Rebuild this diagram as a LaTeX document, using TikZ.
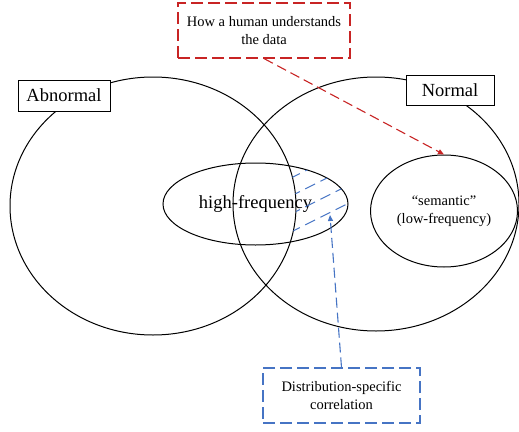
\documentclass[tikz,border=0pt]{standalone}
\usepackage{fontspec}
\setmainfont{Liberation Serif}
\usetikzlibrary{shapes.geometric,arrows.meta}
\definecolor{noteRed}{RGB}{200,36,36}
\definecolor{noteBlue}{RGB}{70,116,196}

\begin{document}
\begin{tikzpicture}[x=1pt,y=-1pt,
  setline/.style={draw,ellipse,line width=1pt,inner sep=0pt},
  bigtext/.style={font=\fontsize{18.5}{21}\selectfont},
  smalltext/.style={font=\fontsize{14.5}{17.5}\selectfont,align=center},
  namebox/.style={draw,fill=white,line width=0.9pt,inner sep=0pt,bigtext},
  notebox/.style={fill=white,line width=1.1pt,inner sep=0pt,smalltext,
    dash pattern=on 12pt off 5pt},
  notearrow/.style={line width=1.1pt,dash pattern=on 10pt off 5pt,
    -{Triangle[length=6pt,width=5pt]}},
  hatchline/.style={noteBlue,line width=1.1pt,dash pattern=on 11pt off 6pt},
]
\useasboundingbox (0,0) rectangle (519,431);

% the two large sets
\node[setline,minimum width=286pt,minimum height=258pt] (abn) at (153,206) {};
\node[setline,minimum width=286pt,minimum height=254pt] (nor) at (376,204) {};

% inner sets
\node[setline,minimum width=185pt,minimum height=82pt,bigtext] (hf) at (255.5,204) {high-frequency};
\node[setline,minimum width=147pt,minimum height=112pt,smalltext] (sem) at (444,211)
  {``semantic''\\(low-frequency)};

% hatching: part of the high-frequency set outside the abnormal set
\begin{scope}
  \clip (255.5,204) ellipse [x radius=92.5,y radius=41];
  \clip (153,335) arc [start angle=90,end angle=-90,x radius=143,y radius=129]
        -- (600,77) -- (600,335) -- cycle;
  \foreach \k in {-2,...,5}{
    \draw[hatchline] (290,{175+18*\k+0.5*7}) -- (370,{175+18*\k-0.5*73});
  }
\end{scope}

% set names
\node[namebox,minimum width=92pt,minimum height=31pt] (abnlabel) at (64,95.5) {Abnormal};
\node[namebox,minimum width=88pt,minimum height=30pt] (norlabel) at (450,90) {Normal};

% annotations
\node[notebox,draw=noteRed,minimum width=172pt,minimum height=55pt] (human) at (264,30.5)
  {How a human understands\\the data};
\node[notebox,draw=noteBlue,minimum width=157pt,minimum height=55pt] (dist) at (341.5,395.5)
  {Distribution-specific\\correlation};

\coordinate (hatchtip) at (330,215);
\draw[notearrow,noteRed] (human.south) -- (sem.north);
\draw[notearrow,noteBlue] (dist.north) -- (hatchtip);
\end{tikzpicture}
\end{document}
